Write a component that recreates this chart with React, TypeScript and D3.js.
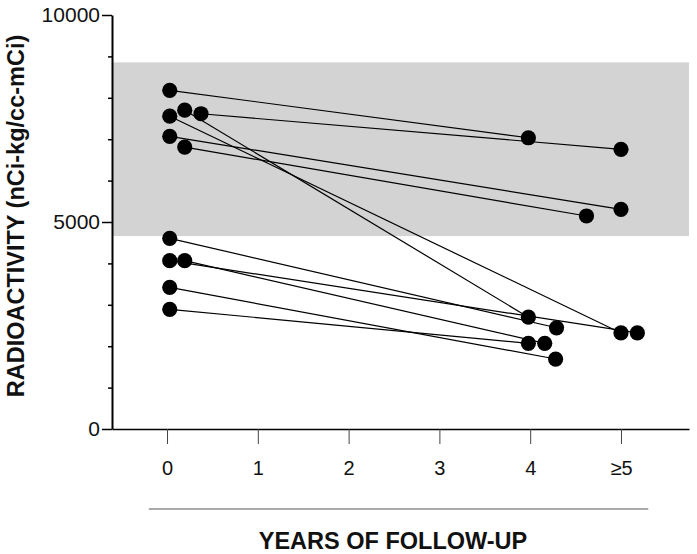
import { FC, useEffect, useRef } from 'react';
import * as d3 from 'd3';

// follow-up pairs: value at baseline -> value at later follow-up
const startYears = [0.03, 0.195, 0.374, 0.03, 0.03, 0.195, 0.03, 0.03, 0.195, 0.03, 0.03];
const startValues = [8180, 7700, 7615, 7555, 7070, 6810, 4605, 4065, 4065, 3420, 2890];
const endYears = [3.98, 3.98, 5.0, 5.0, 5.0, 4.62, 4.29, 5.18, 4.16, 4.28, 3.98];
const endValues = [7035, 2700, 6755, 2320, 5305, 5145, 2445, 2320, 2070, 1690, 2070];

// normal range band
const bandRange = [4660, 8855];

const xTicks = [0, 1, 2, 3, 4, 5];
const xTickLabels = ['0', '1', '2', '3', '4', '≥5'];
const yMajorTicks = [0, 5000, 10000];
const yMinorTicks = [1000, 2000, 3000, 4000, 6000, 7000, 8000, 9000];

const FONT = "'Liberation Sans', Arial, sans-serif";

const App: FC = () => {
  const svgRef = useRef<SVGSVGElement | null>(null);
  const width = 697;
  const height = 554;
  const margin = { top: 15, right: 8, bottom: 125, left: 112 };

  useEffect(() => {
    if (!svgRef.current) return;
    const svg = d3.select(svgRef.current);
    svg.selectAll('*').remove();

    const x = d3.scaleLinear()
      .domain([-0.606, 5.749])
      .range([margin.left, width - margin.right]);

    const y = d3.scaleLinear()
      .domain([0, 10000])
      .range([height - margin.bottom, margin.top]);

    const y0 = y(0);

    // gray band
    svg.append('rect')
      .attr('x', x.range()[0])
      .attr('y', y(bandRange[1]))
      .attr('width', x.range()[1] - x.range()[0])
      .attr('height', y(bandRange[0]) - y(bandRange[1]))
      .attr('fill', '#d3d3d3');

    // X axis
    const xAxis = svg.append('g')
      .attr('transform', `translate(0,${y0})`)
      .call(d3.axisBottom(x).tickValues(xTicks).tickSize(15).tickSizeOuter(0)
        .tickFormat((d, i) => xTickLabels[i]));
    xAxis.select('.domain').attr('stroke', '#000').attr('stroke-width', 1.5);
    xAxis.selectAll('.tick line').attr('stroke', '#444').attr('stroke-width', 1);
    xAxis.selectAll('.tick text')
      .attr('font-family', FONT)
      .attr('font-size', 20)
      .attr('fill', '#111')
      .attr('y', 46)
      .attr('dy', 0);

    // Y axis minor ticks
    const yMinor = svg.append('g')
      .attr('transform', `translate(${margin.left},0)`)
      .call(d3.axisLeft(y).tickValues(yMinorTicks).tickSize(4).tickFormat(() => ''));
    yMinor.select('.domain').remove();
    yMinor.selectAll('.tick line').attr('stroke', '#000').attr('stroke-width', 1.5);

    // Y axis major
    const yAxis = svg.append('g')
      .attr('transform', `translate(${margin.left},0)`)
      .call(d3.axisLeft(y).tickValues(yMajorTicks).tickSize(10).tickSizeOuter(0)
        .tickPadding(2).tickFormat(d3.format('d')));
    yAxis.select('.domain').attr('stroke', '#000').attr('stroke-width', 2);
    yAxis.selectAll('.tick line').attr('stroke', '#000').attr('stroke-width', 1.5);
    yAxis.selectAll('.tick text')
      .attr('font-family', FONT)
      .attr('font-size', 21)
      .attr('fill', '#111');

    // connecting lines
    const pairs = startValues.map((v, i) => ({
      x1: startYears[i], y1: v, x2: endYears[i], y2: endValues[i],
    }));

    svg.append('g')
      .selectAll('line')
      .data(pairs)
      .enter()
      .append('line')
      .attr('x1', d => x(d.x1))
      .attr('y1', d => y(d.y1))
      .attr('x2', d => x(d.x2))
      .attr('y2', d => y(d.y2))
      .attr('stroke', '#000')
      .attr('stroke-width', 1.2);

    // dots
    const dots = [
      ...startValues.map((v, i) => [startYears[i], v]),
      ...endValues.map((v, i) => [endYears[i], v]),
    ];
    svg.append('g')
      .selectAll('circle')
      .data(dots)
      .enter()
      .append('circle')
      .attr('cx', d => x(d[0]))
      .attr('cy', d => y(d[1]))
      .attr('r', 7.6)
      .attr('fill', '#000');

    // line under the x tick labels
    svg.append('line')
      .attr('x1', x(-0.2))
      .attr('x2', x(5.3))
      .attr('y1', 509)
      .attr('y2', 509)
      .attr('stroke', '#555')
      .attr('stroke-width', 1.2);

    // axis titles
    svg.append('text')
      .attr('x', 393)
      .attr('y', 549)
      .attr('text-anchor', 'middle')
      .attr('font-family', FONT)
      .attr('font-weight', 'bold')
      .attr('font-size', 23.5)
      .attr('fill', '#111')
      .text('YEARS OF FOLLOW-UP');

    svg.append('text')
      .attr('transform', 'translate(24,216) rotate(-90)')
      .attr('text-anchor', 'middle')
      .attr('font-family', FONT)
      .attr('font-weight', 'bold')
      .attr('font-size', 23.5)
      .attr('fill', '#111')
      .text('RADIOACTIVITY (nCi-kg/cc-mCi)');
  }, []);

  return (
    <svg
      ref={svgRef}
      width={width}
      height={height}
      style={{ position: 'absolute', left: 0, top: 0, background: '#fff' }}
    />
  );
};

export default App;
